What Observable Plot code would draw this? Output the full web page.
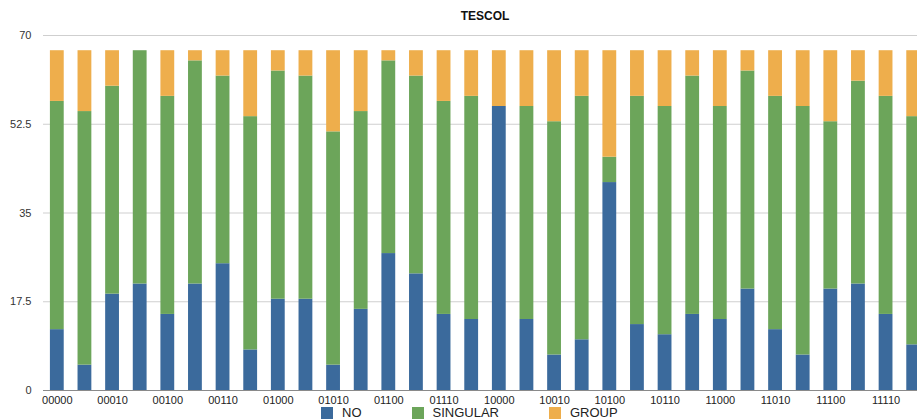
<!DOCTYPE html>
<html>
<head>
<meta charset="utf-8">
<script src="https://cdn.jsdelivr.net/npm/d3@7"></script>
<script src="https://cdn.jsdelivr.net/npm/@observablehq/plot@0.6"></script>
<style>
  html, body { margin: 0; padding: 0; background: #fff; overflow: hidden; width: 917px; height: 419px; }
  #wrap { position: relative; width: 927px; height: 419px; font-family: "Liberation Sans", Arial, Helvetica, sans-serif; }
  #title { position: absolute; left: 43px; width: 884px; top: 9px; text-align: center; font-weight: bold; font-size: 12px; color: #111; }
  #chart { position: absolute; left: 0; top: 0; }
  #legend { position: absolute; left: 321px; top: 405px; display: flex; align-items: center; font-size: 13px; color: #222; }
  .item { display: flex; align-items: center; margin-right: 50px; }
  .sw { width: 12px; height: 12px; margin-right: 9px; }
</style>
</head>
<body>
<div id="wrap">
  <div id="title">TESCOL</div>
  <div id="chart"></div>
  <div id="legend"></div>
</div>
<script>
const categories = ["00000","00001","00010","00011","00100","00101","00110","00111",
  "01000","01001","01010","01011","01100","01101","01110","01111",
  "10000","10001","10010","10011","10100","10101","10110","10111",
  "11000","11001","11010","11011","11100","11101","11110","11111"];
const seriesNames = ["NO", "SINGULAR", "GROUP"];
const seriesColors = ["#3b6a9c", "#6ca55a", "#eeae4c"];
const noValues =       [12, 5,19,21,15,21,25, 8,18,18, 5,16,27,23,15,14,56,14, 7,10,41,13,11,15,14,20,12, 7,20,21,15, 9];
const singularValues = [45,50,41,46,43,44,37,46,45,44,46,39,38,39,42,44, 0,42,46,48, 5,45,45,47,42,43,46,49,33,40,43,45];
const groupValues =    [10,12, 7, 0, 9, 2, 5,13, 4, 5,16,12, 2, 5,10, 9,11,11,14, 9,21, 9,11, 5,11, 4, 9,11,14, 6, 9,13];
const yTicks = [0, 17.5, 35, 52.5, 70];
const xTickLabels = categories.filter((d, i) => i % 2 === 0);

const allSeries = [noValues, singularValues, groupValues];
const rows = [];
categories.forEach((c, i) => {
  seriesNames.forEach((s, k) => rows.push({category: c, series: s, value: allSeries[k][i], order: k}));
});

const chart = Plot.plot({
  width: 927,
  height: 407,
  marginLeft: 43,
  marginRight: 0,
  marginTop: 35,
  marginBottom: 17,
  style: {fontFamily: '"Liberation Sans", Arial, Helvetica, sans-serif', fontSize: "11px", color: "#333", background: "transparent"},
  x: {domain: categories, paddingInner: 0.5, paddingOuter: 0.25, round: false, label: null},
  y: {domain: [0, 70], label: null},
  color: {domain: seriesNames, range: seriesColors},
  marks: [
    Plot.ruleY(yTicks.filter(d => d > 0), {stroke: "#cfcfcf", strokeWidth: 1.2}),
    Plot.barY(rows, Plot.stackY({x: "category", y: "value", fill: "series", order: seriesNames})),
    Plot.ruleY([0], {stroke: "#8a8a8a", strokeWidth: 1.2}),
    Plot.axisY({ticks: yTicks, tickSize: 0, tickPadding: 12, label: null, fill: "#333", tickFormat: d => String(d)}),
    Plot.axisX({ticks: xTickLabels, tickSize: 0, tickPadding: 6, label: null, fill: "#222"})
  ]
});
document.getElementById("chart").appendChild(chart);

const legend = document.getElementById("legend");
seriesNames.forEach((s, k) => {
  const item = document.createElement("div");
  item.className = "item";
  const sw = document.createElement("div");
  sw.className = "sw";
  sw.style.background = seriesColors[k];
  const t = document.createElement("span");
  t.textContent = s;
  item.appendChild(sw);
  item.appendChild(t);
  legend.appendChild(item);
});
</script>
</body>
</html>
